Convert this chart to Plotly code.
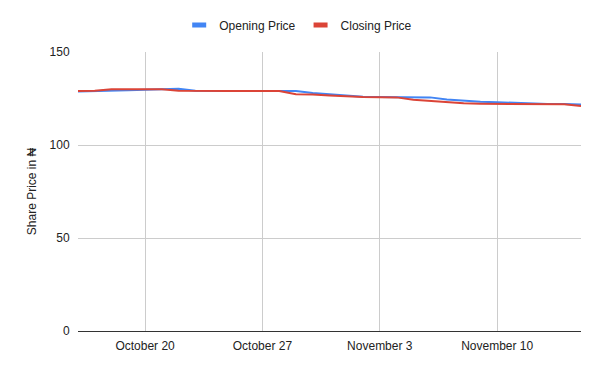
import plotly.graph_objects as go
import pandas as pd

dates = pd.date_range("2023-10-16", "2023-11-15", freq="D").strftime("%Y-%m-%d").tolist()

opening_price = [128.8, 128.9, 129.2, 129.4, 129.7, 130.0, 130.2, 129.2, 129.0, 129.0,
                 129.0, 129.0, 129.0, 129.0, 128.0, 127.2, 126.5, 126.0, 125.8, 125.7,
                 125.7, 125.6, 124.5, 123.8, 123.3, 123.0, 122.6, 122.2, 122.0, 122.0, 121.8]
closing_price = [129.0, 129.1, 130.0, 130.1, 130.1, 130.0, 129.2, 129.0, 129.0, 129.0,
                 129.0, 129.0, 129.0, 127.3, 127.2, 126.6, 126.0, 125.8, 125.7, 125.6,
                 124.3, 123.6, 123.2, 122.4, 122.2, 122.1, 122.0, 122.0, 122.0, 121.9, 121.0]

tick_dates = ["2023-10-20", "2023-10-27", "2023-11-03", "2023-11-10"]
tick_labels = ["October 20", "October 27", "November 3", "November 10"]

series = [("Opening Price", opening_price, "#4285F4"),
          ("Closing Price", closing_price, "#DB4437")]

fig = go.Figure()
for name, vals, color in series:
    fig.add_trace(go.Scatter(x=dates, y=vals, mode="lines", name=name,
                             line=dict(color=color, width=2), showlegend=False))
for name, vals, color in series:
    fig.add_trace(go.Scatter(x=[None], y=[None], mode="markers", name=name,
                             marker=dict(symbol="line-ew", size=10, color=color,
                                         line=dict(width=5, color=color))))

font = "Arial, Liberation Sans, sans-serif"
fig.update_layout(
    width=600, height=371,
    margin=dict(l=78, r=19, t=52, b=40, pad=0),
    paper_bgcolor="white", plot_bgcolor="white",
    font=dict(family=font, size=12, color="#222222"),
    legend=dict(orientation="h", xref="container", x=0.497, xanchor="center",
                yref="container", y=1 - 25 / 371, yanchor="middle",
                font=dict(size=12, color="#222222"),
                itemwidth=30, tracegroupgap=0, bgcolor="rgba(0,0,0,0)"),
    xaxis=dict(type="date", range=["2023-10-16", "2023-11-15"], automargin=False,
               tickvals=tick_dates, ticktext=tick_labels, showgrid=True,
               gridcolor="#cccccc", gridwidth=1, showline=False, zeroline=False,
               ticks="outside", ticklen=4, tickcolor="rgba(0,0,0,0)",
               tickfont=dict(size=12, color="#222222")),
    yaxis=dict(range=[0, 150], tickvals=[0, 50, 100, 150], showgrid=True, automargin=False,
               gridcolor="#cccccc", gridwidth=1, zeroline=True, zerolinecolor="#333333",
               zerolinewidth=1, showline=False,
               ticks="outside", ticklen=5, tickcolor="rgba(0,0,0,0)",
               tickfont=dict(size=12, color="#222222"),
               title=dict(text="Share Price in ₦", font=dict(size=12, color="#222222"),
                          standoff=10)),
)
fig.write_html("out.html", config={"displayModeBar": False})

with open("out.html", "r", encoding="utf-8") as f:
    html = f.read()
html = html.replace("<body>", '<body style="margin:0;padding:0;">', 1)
with open("out.html", "w", encoding="utf-8") as f:
    f.write(html)
